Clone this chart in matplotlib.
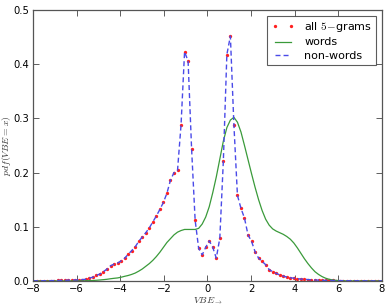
import numpy as np
import matplotlib
matplotlib.use("Agg")
import matplotlib.pyplot as plt

plt.rcParams['mathtext.fontset'] = 'cm'

# sample grid: 100 equally spaced points between -8 and 8
x_min, x_max, n_pts = -8, 8, 100

all_5grams = [
    0.0002, 0.0002, 0.0003, 0.0003, 0.0004, 0.0005, 0.0006, 0.0008, 0.0010, 0.0012,
    0.0014, 0.0016, 0.0018, 0.0020, 0.0025, 0.0030, 0.0050, 0.0070, 0.0100, 0.0130,
    0.0170, 0.0220, 0.0280, 0.0310, 0.0330, 0.0370, 0.0420, 0.0490, 0.0560, 0.0630,
    0.0730, 0.0810, 0.0890, 0.0980, 0.1090, 0.1200, 0.1320, 0.1450, 0.1620, 0.1860,
    0.2000, 0.2040, 0.2880, 0.4230, 0.4060, 0.2430, 0.1120, 0.0600, 0.0480, 0.0620,
    0.0740, 0.0620, 0.0420, 0.0790, 0.2210, 0.4180, 0.4520, 0.2880, 0.1580, 0.1340,
    0.1160, 0.0850, 0.0730, 0.0540, 0.0420, 0.0360, 0.0300, 0.0210, 0.0170, 0.0140,
    0.0110, 0.0090, 0.0070, 0.0060, 0.0050, 0.0040, 0.0035, 0.0030, 0.0025, 0.0020,
    0.0017, 0.0014, 0.0012, 0.0010, 0.0009, 0.0008, 0.0007, 0.0006, 0.0005, 0.0004,
    0.0004, 0.0003, 0.0003, 0.0002, 0.0002, 0.0002, 0.0001, 0.0001, 0.0001, 0.0001,
]

non_words = list(all_5grams)

words = [
    0.0000, 0.0000, 0.0000, 0.0000, 0.0000, 0.0000, 0.0000, 0.0000, 0.0000, 0.0000,
    0.0000, 0.0000, 0.0001, 0.0001, 0.0002, 0.0003, 0.0005, 0.0008, 0.0012, 0.0017,
    0.0023, 0.0030, 0.0040, 0.0048, 0.0055, 0.0068, 0.0085, 0.0100, 0.0120, 0.0145,
    0.0180, 0.0220, 0.0270, 0.0320, 0.0380, 0.0450, 0.0530, 0.0620, 0.0710, 0.0780,
    0.0850, 0.0900, 0.0930, 0.0950, 0.0950, 0.0950, 0.0950, 0.0970, 0.1050, 0.1180,
    0.1370, 0.1630, 0.1920, 0.2250, 0.2580, 0.2830, 0.2970, 0.3020, 0.2930, 0.2750,
    0.2500, 0.2240, 0.1980, 0.1730, 0.1500, 0.1300, 0.1140, 0.1030, 0.0960, 0.0920,
    0.0890, 0.0860, 0.0820, 0.0770, 0.0700, 0.0610, 0.0510, 0.0410, 0.0320, 0.0240,
    0.0170, 0.0120, 0.0080, 0.0050, 0.0030, 0.0018, 0.0010, 0.0005, 0.0002, 0.0001,
    0.0000, 0.0000, 0.0000, 0.0000, 0.0000, 0.0000, 0.0000, 0.0000, 0.0000, 0.0000,
]

labels = ["all $5\\!-\\!$grams", "words", "non-words"]
x_ticks = [-8, -6, -4, -2, 0, 2, 4, 6, 8]
y_ticks = [0.0, 0.1, 0.2, 0.3, 0.4, 0.5]

x = np.linspace(x_min, x_max, n_pts)

fig = plt.figure(figsize=(3.86, 3.06), dpi=100)
ax = fig.add_axes([0.0855, 0.082, 0.904, 0.885])

ax.plot(x, all_5grams, linestyle='none', marker='o', markersize=2.4,
        markeredgewidth=0, color='#ff2020', label=labels[0])
ax.plot(x, words, '-', color='#3a9a3a', lw=0.9, label=labels[1])
ax.plot(x, non_words, '--', color='#4a4ae8', lw=1.0, dashes=(3.6, 2.2),
        label=labels[2])

ax.set_xlim(-8, 8)
ax.set_ylim(0, 0.5)
ax.set_xticks(x_ticks)
ax.set_yticks(y_ticks)
ax.set_xticklabels([str(t).replace('-', '\u2212') for t in x_ticks])
ax.set_yticklabels([f"{t:.1f}" for t in y_ticks])
ax.tick_params(direction='in', top=True, right=True, labelsize=7.2,
               length=4, width=0.6, color='#444444', pad=3)
ax.tick_params(axis='x', pad=2.5)
for s in ax.spines.values():
    s.set_color('#555555')
    s.set_linewidth(0.9)

ax.set_xlabel('$VBE_{\\to}$', fontsize=7, color='#333333', va='center')
ax.set_ylabel('$pdf(VBE=x)$', fontsize=7, color='#333333', va='center')
ax.xaxis.set_label_coords(0.5, -0.076)
ax.yaxis.set_label_coords(-0.076, 0.5)

leg = ax.legend(loc='upper right', numpoints=2, fontsize=8, frameon=True,
                fancybox=False, borderaxespad=0.5, handlelength=2.0,
                handletextpad=0.9, borderpad=0.4, labelspacing=0.3)
leg.get_frame().set_edgecolor('#333333')
leg.get_frame().set_linewidth(0.8)

fig.savefig('out.png', dpi=100)
